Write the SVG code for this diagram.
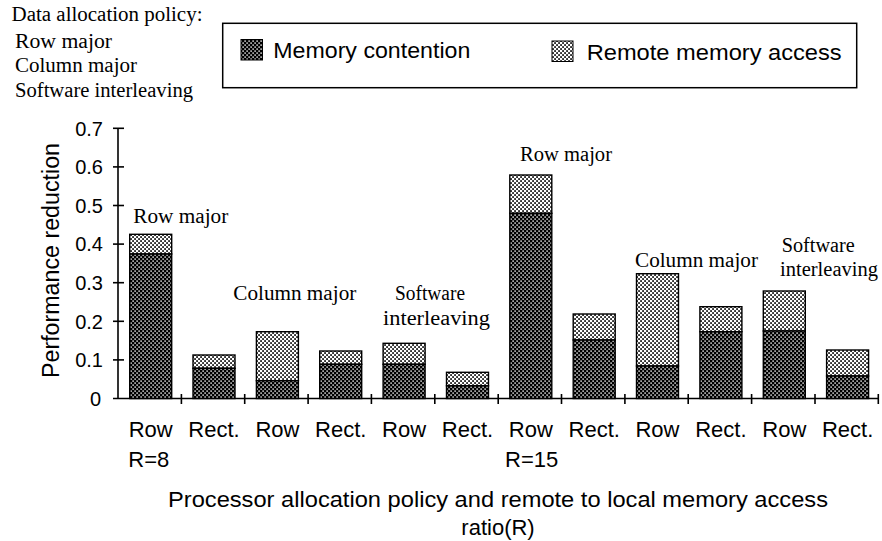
<svg xmlns="http://www.w3.org/2000/svg" width="882" height="541" viewBox="0 0 882 541">
<defs>
<pattern id="pDark" patternUnits="userSpaceOnUse" width="4" height="4">
<rect width="4" height="4" fill="#000"/>
<rect x="0.4" y="0.4" width="1.4" height="1.4" fill="#fff"/>
<rect x="2.4" y="2.4" width="1.4" height="1.4" fill="#fff"/>
</pattern>
<pattern id="pLight" patternUnits="userSpaceOnUse" width="4" height="4">
<rect width="4" height="4" fill="#fff"/>
<rect x="0.2" y="0.2" width="1.7" height="1.7" fill="#000"/>
<rect x="2.2" y="2.2" width="1.7" height="1.7" fill="#000"/>
</pattern>
<style>
.sans{font-family:"Liberation Sans",Arial,Helvetica,sans-serif;fill:#000}
.serif{font-family:"Liberation Serif","Times New Roman",serif;fill:#000;font-size:20.5px}
.ax{stroke:#000;stroke-width:1.6;fill:none}
.mem{fill:url(#pDark);stroke:#000;stroke-width:1.4}
.rem{fill:url(#pLight);stroke:#000;stroke-width:1.4}
.tick{font-size:20px;text-anchor:end}
.xl{font-size:22px;text-anchor:middle}
</style>
</defs>
<rect width="882" height="541" fill="#fff"/>

<g id="policy-note">
<text class="serif" x="11.5" y="20.5" textLength="191" lengthAdjust="spacingAndGlyphs">Data allocation policy:</text>
<text class="serif" x="15" y="47.5" textLength="97" lengthAdjust="spacingAndGlyphs">Row major</text>
<text class="serif" x="15" y="72.3" textLength="122" lengthAdjust="spacingAndGlyphs">Column major</text>
<text class="serif" x="15" y="96.7" textLength="178" lengthAdjust="spacingAndGlyphs">Software interleaving</text>
</g>

<g id="legend">
<rect x="222.7" y="23.3" width="634" height="64.4" fill="#fff" stroke="#000" stroke-width="1.5"/>
<rect x="241" y="39.5" width="21.5" height="20.5" fill="url(#pDark)" stroke="#000" stroke-width="1"/>
<text class="sans" x="273.3" y="58.3" font-size="22" textLength="197" lengthAdjust="spacingAndGlyphs">Memory contention</text>
<rect x="552" y="41" width="21" height="20.5" fill="url(#pLight)" stroke="#000" stroke-width="1"/>
<text class="sans" x="586.7" y="60" font-size="22" textLength="255" lengthAdjust="spacingAndGlyphs">Remote memory access</text>
</g>

<g id="axes">
<line class="ax" x1="118" y1="128.3" x2="118" y2="398.5"/>
<line class="ax" x1="113" y1="398.5" x2="879" y2="398.5"/>
<g class="ax">
<line x1="113" y1="128.3" x2="124" y2="128.3"/>
<line x1="113" y1="166.9" x2="124" y2="166.9"/>
<line x1="113" y1="205.5" x2="124" y2="205.5"/>
<line x1="113" y1="244.1" x2="124" y2="244.1"/>
<line x1="113" y1="282.7" x2="124" y2="282.7"/>
<line x1="113" y1="321.3" x2="124" y2="321.3"/>
<line x1="113" y1="359.9" x2="124" y2="359.9"/>
<line x1="181.4" y1="394" x2="181.4" y2="404"/>
<line x1="244.7" y1="394" x2="244.7" y2="404"/>
<line x1="308.1" y1="394" x2="308.1" y2="404"/>
<line x1="371.4" y1="394" x2="371.4" y2="404"/>
<line x1="434.8" y1="394" x2="434.8" y2="404"/>
<line x1="498.2" y1="394" x2="498.2" y2="404"/>
<line x1="561.5" y1="394" x2="561.5" y2="404"/>
<line x1="624.9" y1="394" x2="624.9" y2="404"/>
<line x1="688.2" y1="394" x2="688.2" y2="404"/>
<line x1="751.6" y1="394" x2="751.6" y2="404"/>
<line x1="815" y1="394" x2="815" y2="404"/>
<line x1="878.3" y1="394" x2="878.3" y2="404"/>
</g>
<g class="sans tick">
<text x="103" y="135.5">0.7</text>
<text x="103" y="174.1">0.6</text>
<text x="103" y="212.7">0.5</text>
<text x="103" y="251.3">0.4</text>
<text x="103" y="289.9">0.3</text>
<text x="103" y="328.5">0.2</text>
<text x="103" y="367.1">0.1</text>
<text x="101" y="405.7">0</text>
</g>
<text class="sans" font-size="23" text-anchor="middle" transform="translate(59,260.5) rotate(-90)" textLength="235" lengthAdjust="spacingAndGlyphs">Performance reduction</text>
</g>

<g id="bars">
<g id="bar1"><rect class="rem" x="129.7" y="234.3" width="42" height="19.7"/><rect class="mem" x="129.7" y="254" width="42" height="144.5"/></g>
<g id="bar2"><rect class="rem" x="193" y="355" width="42" height="13.3"/><rect class="mem" x="193" y="368.3" width="42" height="30.2"/></g>
<g id="bar3"><rect class="rem" x="256.4" y="331.7" width="42" height="49"/><rect class="mem" x="256.4" y="380.7" width="42" height="17.8"/></g>
<g id="bar4"><rect class="rem" x="319.7" y="351" width="42" height="13.3"/><rect class="mem" x="319.7" y="364.3" width="42" height="34.2"/></g>
<g id="bar5"><rect class="rem" x="383.1" y="343.3" width="42" height="21"/><rect class="mem" x="383.1" y="364.3" width="42" height="34.2"/></g>
<g id="bar6"><rect class="rem" x="446.5" y="372.3" width="42" height="13.5"/><rect class="mem" x="446.5" y="385.8" width="42" height="12.7"/></g>
<g id="bar7"><rect class="rem" x="509.8" y="175" width="42" height="38.3"/><rect class="mem" x="509.8" y="213.3" width="42" height="185.2"/></g>
<g id="bar8"><rect class="rem" x="573.2" y="314" width="42" height="26"/><rect class="mem" x="573.2" y="340" width="42" height="58.5"/></g>
<g id="bar9"><rect class="rem" x="636.5" y="273.7" width="42" height="92.3"/><rect class="mem" x="636.5" y="366" width="42" height="32.5"/></g>
<g id="bar10"><rect class="rem" x="699.9" y="306.7" width="42" height="25"/><rect class="mem" x="699.9" y="331.7" width="42" height="66.8"/></g>
<g id="bar11"><rect class="rem" x="763.3" y="291" width="42" height="40"/><rect class="mem" x="763.3" y="331" width="42" height="67.5"/></g>
<g id="bar12"><rect class="rem" x="826.6" y="350" width="42" height="26"/><rect class="mem" x="826.6" y="376" width="42" height="22.5"/></g>
</g>

<g id="group-labels">
<text class="serif" x="133.3" y="223.3" textLength="95" lengthAdjust="spacingAndGlyphs">Row major</text>
<text class="serif" x="233.3" y="300" textLength="123" lengthAdjust="spacingAndGlyphs">Column major</text>
<text class="serif" x="395" y="300" textLength="70" lengthAdjust="spacingAndGlyphs">Software</text>
<text class="serif" x="383" y="325" textLength="107" lengthAdjust="spacingAndGlyphs">interleaving</text>
<text class="serif" x="520" y="160.7" textLength="92" lengthAdjust="spacingAndGlyphs">Row major</text>
<text class="serif" x="635" y="266.7" textLength="123" lengthAdjust="spacingAndGlyphs">Column major</text>
<text class="serif" x="781.7" y="251.7" textLength="73" lengthAdjust="spacingAndGlyphs">Software</text>
<text class="serif" x="780" y="276" textLength="98" lengthAdjust="spacingAndGlyphs">interleaving</text>
</g>

<g id="x-labels" class="sans xl">
<text x="150.7" y="436.7">Row</text>
<text x="214" y="436.7">Rect.</text>
<text x="277.4" y="436.7">Row</text>
<text x="340.7" y="436.7">Rect.</text>
<text x="404.1" y="436.7">Row</text>
<text x="467.5" y="436.7">Rect.</text>
<text x="530.8" y="436.7">Row</text>
<text x="594.2" y="436.7">Rect.</text>
<text x="657.5" y="436.7">Row</text>
<text x="720.9" y="436.7">Rect.</text>
<text x="784.3" y="436.7">Row</text>
<text x="847.6" y="436.7">Rect.</text>
<text x="128.3" y="467.3" text-anchor="start">R=8</text>
<text x="505" y="467.3" text-anchor="start">R=15</text>
</g>

<g id="x-title" class="sans" font-size="22" text-anchor="middle">
<text x="498" y="506.7" textLength="660" lengthAdjust="spacingAndGlyphs">Processor allocation policy and remote to local memory access</text>
<text x="498" y="535">ratio(R)</text>
</g>
</svg>
